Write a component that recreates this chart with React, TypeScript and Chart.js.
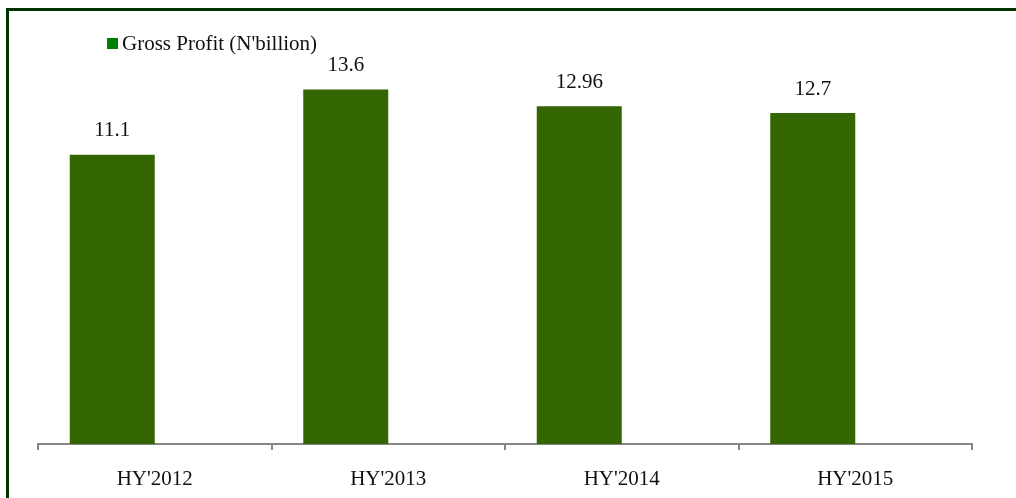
import React, { useEffect, useRef } from "react";
import { Chart, registerables } from "chart.js";

Chart.register(...registerables);

const categories = ["HY'2012", "HY'2013", "HY'2014", "HY'2015"];
const grossProfit = [11.1, 13.6, 12.96, 12.7];
const valueLabels = ["11.1", "13.6", "12.96", "12.7"];
const seriesName = "Gross Profit (N'billion)";
const emptySeries = [null, null, null, null];

const FONT = "'Liberation Serif', 'Times New Roman', serif";

const legendPlugin = {
  id: "customLegend",
  afterDraw(chart: any) {
    const ctx = chart.ctx;
    ctx.save();
    ctx.fillStyle = "#008000";
    ctx.fillRect(107, 38, 11, 11);
    ctx.fillStyle = "#111";
    ctx.font = `21px ${FONT}`;
    ctx.textBaseline = "middle";
    ctx.textAlign = "left";
    ctx.fillText(chart.data.datasets[0].label, 122, 44);
    ctx.restore();
  },
};

const labelPlugin = {
  id: "valueLabels",
  afterDatasetsDraw(chart: any) {
    const ctx = chart.ctx;
    const meta = chart.getDatasetMeta(0);
    ctx.save();
    ctx.fillStyle = "#111";
    ctx.font = `21px ${FONT}`;
    ctx.textAlign = "center";
    ctx.textBaseline = "middle";
    meta.data.forEach((el: any, i: number) => {
      ctx.fillText(valueLabels[i], el.x, el.y - 24);
    });
    ctx.restore();
  },
};

export default function App() {
  const ref = useRef<HTMLCanvasElement>(null);
  useEffect(() => {
    if (!ref.current) return;
    const chart = new Chart(ref.current, {
      type: "bar",
      data: {
        labels: categories,
        datasets: [
          {
            label: seriesName,
            data: grossProfit,
            backgroundColor: "#336600",
            barPercentage: 1,
            categoryPercentage: 0.728,
          },
          {
            label: "",
            data: emptySeries as any,
            backgroundColor: "rgba(0,0,0,0)",
            barPercentage: 1,
            categoryPercentage: 0.728,
          },
        ],
      },
      options: {
        animation: false,
        responsive: false,
        maintainAspectRatio: false,
        layout: { padding: { left: 38, right: 44, top: 27, bottom: 0 } },
        plugins: { legend: { display: false }, tooltip: { enabled: false } },
        scales: {
          y: { display: false, min: 0, max: 16 },
          x: {
            afterFit: (scale: any) => {
              scale.height = 54;
            },
            grid: {
              offset: true,
              drawOnChartArea: false,
              drawTicks: true,
              tickLength: 6,
              color: "#868686",
              lineWidth: 2,
            },
            border: { color: "#868686", width: 2 },
            ticks: {
              color: "#111",
              font: { family: FONT, size: 21 },
              padding: 17,
              maxRotation: 0,
            },
          },
        },
      },
      plugins: [legendPlugin, labelPlugin],
    });
    return () => chart.destroy();
  }, []);

  return (
    <div
      style={{
        position: "fixed",
        left: 0,
        top: 0,
        width: 1016,
        height: 498,
        background: "#fff",
        overflow: "hidden",
      }}
    >
      <canvas ref={ref} width={1016} height={498} style={{ position: "absolute", left: 0, top: 0 }} />
      <div
        style={{
          position: "absolute",
          left: 6,
          top: 8,
          width: 1100,
          height: 600,
          border: "3px solid #003300",
          pointerEvents: "none",
        }}
      />
    </div>
  );
}
